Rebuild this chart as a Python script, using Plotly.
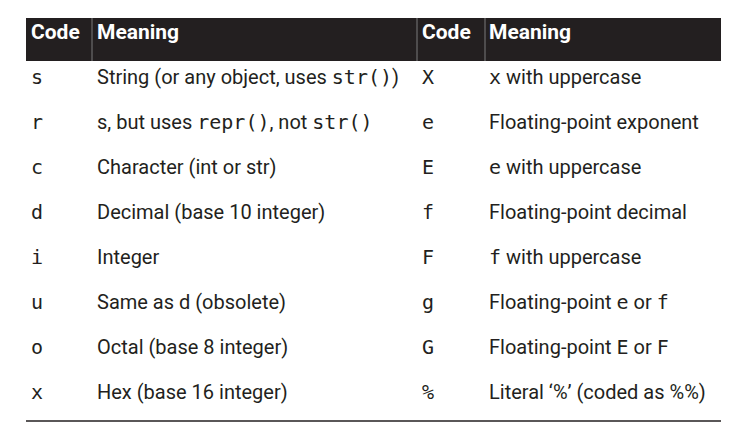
import plotly.graph_objects as go

MONO = "DejaVu Sans Mono"
SANS = "Roboto"
INK = "#231f20"


def code(s):
    return f"<span style='font-family:{MONO}'>{s}</span>"


header_labels = ["Code", "Meaning", "Code", "Meaning"]

left_codes = ["s", "r", "c", "d", "i", "u", "o", "x"]
left_meanings = [
    "String (or any object, uses " + code("str()") + ")",
    "s, but uses " + code("repr()") + ", not " + code("str()"),
    "Character (int or str)",
    "Decimal (base 10 integer)",
    "Integer",
    "Same as d (obsolete)",
    "Octal (base 8 integer)",
    "Hex (base 16 integer)",
]
right_codes = ["X", "e", "E", "f", "F", "g", "G", "%"]
right_meanings = [
    code("x") + " with uppercase",
    "Floating-point exponent",
    code("e") + " with uppercase",
    "Floating-point decimal",
    code("f") + " with uppercase",
    "Floating-point " + code("e") + " or " + code("f"),
    "Floating-point " + code("E") + " or " + code("F"),
    "Literal \u2018%\u2019 (coded as %%)",
]

W, H = 742, 425
# anchor of the text in each column, in pixels (text starts ~7px to the right)
col_x = [23, 89, 414, 481]
columns = [
    [code(c) for c in left_codes],
    left_meanings,
    [code(c) for c in right_codes],
    right_meanings,
]
rows = list(range(len(left_codes)))

fig = go.Figure()

# header band and the thin rules between header cells
fig.add_shape(type="rect", xref="x", yref="paper", x0=18, x1=713,
              y0=1 - 53 / H, y1=1 - 10 / H, fillcolor=INK, line_width=0, layer="below")
for xd in [84, 409, 477]:
    fig.add_shape(type="line", xref="x", yref="paper", x0=xd, x1=xd,
                  y0=1 - 53 / H, y1=1 - 10 / H, line=dict(color="#7a7a7a", width=1))
# rule under the last row
fig.add_shape(type="line", xref="x", yref="paper", x0=18, x1=713,
              y0=1 - 413 / H, y1=1 - 413 / H, line=dict(color=INK, width=1.5))

for texts, x, head in zip(columns, col_x, header_labels):
    fig.add_trace(go.Scatter(
        x=[x], y=[-1], mode="text", text=["<b>" + head + "</b>"],
        textposition="middle right", textfont=dict(family=SANS, size=21, color="white"),
        hoverinfo="skip", showlegend=False,
    ))
    fig.add_trace(go.Scatter(
        x=[x] * len(rows), y=rows, mode="text", text=texts,
        textposition="middle right", textfont=dict(family=SANS, size=20, color=INK),
        hoverinfo="skip", showlegend=False,
    ))

fig.update_layout(
    width=W,
    height=H,
    margin=dict(l=0, r=0, t=0, b=0),
    paper_bgcolor="white",
    plot_bgcolor="white",
    xaxis=dict(range=[0, W], visible=False, fixedrange=True),
    yaxis=dict(range=[(H - 71) / 45, -71 / 45], visible=False, fixedrange=True),
)

fig.write_html("out.html")
